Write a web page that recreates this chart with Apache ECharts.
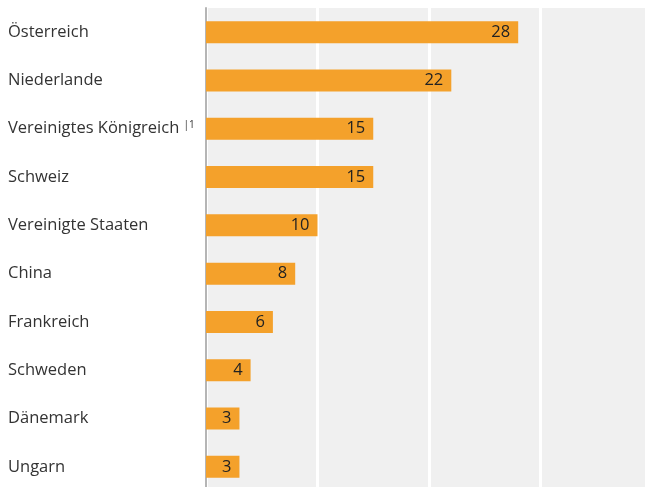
<!DOCTYPE html>
<html>
<head>
<meta charset="utf-8">
<script src="https://cdn.jsdelivr.net/npm/echarts@6/dist/echarts.min.js"></script>
<style>
  html, body { margin: 0; padding: 0; background: #fff; overflow: hidden; }
  /* the plot runs past the right and bottom edge of the page, as in the source */
  #chart { width: 652px; height: 491px; }
</style>
</head>
<body>
<div id="chart"></div>
<script>
const countries = [
  "Österreich", "Niederlande", "Vereinigtes Königreich", "Schweiz",
  "Vereinigte Staaten", "China", "Frankreich", "Schweden", "Dänemark", "Ungarn"
];
const values = [28, 22, 15, 15, 10, 8, 6, 4, 3, 3];
const footnotes = { "Vereinigtes Königreich": "|1" };

window.addEventListener("load", function () {
  const myChart = echarts.init(document.getElementById("chart"));

  const option = {
    animation: false,
    grid: { left: 206, right: 0, top: 8, bottom: 0, containLabel: false,
      show: true, backgroundColor: "#f0f0f0", borderWidth: 0 },
    xAxis: {
      type: "value",
      min: 0,
      max: 40,
      interval: 10,
      axisLabel: { show: false },
      axisLine: { show: false },
      axisTick: { show: false },
      splitLine: { show: true, lineStyle: { color: "#ffffff", width: 3 } },
    },
    yAxis: {
      type: "category",
      inverse: true,
      data: countries,
      axisLine: { show: true, lineStyle: { color: "#b5b5b5", width: 2 } },
      axisTick: { show: false },
      axisLabel: {
        align: "left",
        margin: 198,
        color: "#333333",
        fontFamily: "Open Sans",
        fontSize: 16.5,
        formatter: function (v) {
          return footnotes[v] ? v + " {sup|" + footnotes[v] + "}" : v;
        },
        rich: {
          sup: { fontSize: 10, color: "#333333", verticalAlign: "top", padding: [0, 0, 8, 0] },
        },
      },
    },
    series: [
      {
        type: "bar",
        data: values,
        barWidth: 22,
        itemStyle: { color: "#f4a12b" },
        label: {
          show: true,
          position: "insideRight",
          distance: 8,
          color: "#222222",
          fontFamily: "Open Sans",
          fontSize: 16.5,
        },
      },
    ],
  };
  myChart.setOption(option);
});
</script>
</body>
</html>
